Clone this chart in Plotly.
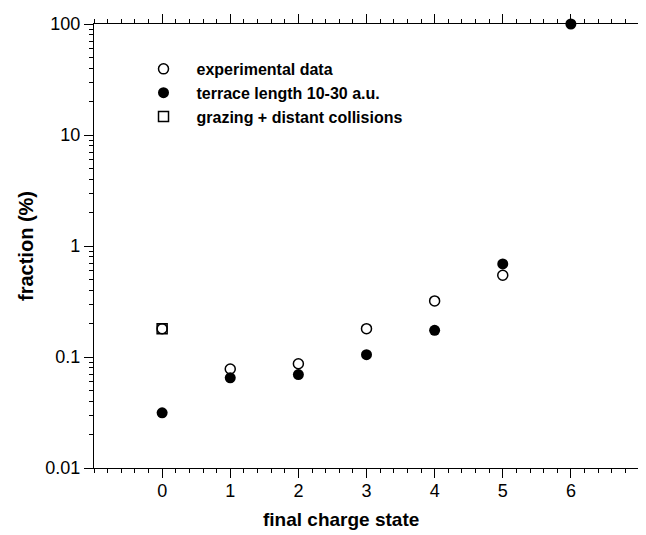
import plotly.graph_objects as go

charge_exp = [0, 1, 2, 3, 4, 5]
frac_exp = [0.18, 0.078, 0.087, 0.18, 0.32, 0.545]

charge_terrace = [0, 1, 2, 3, 4, 5, 6]
frac_terrace = [0.0314, 0.065, 0.0695, 0.105, 0.174, 0.69, 100]

charge_grazing = [0]
frac_grazing = [0.18]

x_ticks = [0, 1, 2, 3, 4, 5, 6]
y_ticks = [0.01, 0.1, 1, 10, 100]
y_ticktext = ["0.01", "0.1", "1", "10", "100"]

FONT = "Liberation Sans, Arial, Helvetica, sans-serif"

fig = go.Figure()
fig.add_trace(go.Scatter(
    x=charge_exp, y=frac_exp, mode="markers", name="experimental data",
    marker=dict(symbol="circle-open", size=10, color="black", line=dict(width=1.5, color="black")),
))
fig.add_trace(go.Scatter(
    x=charge_terrace, y=frac_terrace, mode="markers", name="terrace length 10-30 a.u.",
    marker=dict(symbol="circle", size=11, color="black"), cliponaxis=False,
))
fig.add_trace(go.Scatter(
    x=charge_grazing, y=frac_grazing, mode="markers", name="grazing + distant collisions",
    marker=dict(symbol="square-open", size=10, color="black", line=dict(width=1.5, color="black")),
))

axis_common = dict(
    showline=True, linecolor="black", linewidth=1.2, mirror="allticks",
    ticks="outside", ticklen=9, tickwidth=1.2, tickcolor="black",
    showgrid=False, zeroline=False,
    tickfont=dict(family=FONT, size=18, color="black"),
)

fig.update_layout(
    width=646, height=535,
    margin=dict(l=86, r=5, t=16, b=75),
    paper_bgcolor="white", plot_bgcolor="white",
    font=dict(family=FONT, color="black"),
    xaxis=dict(
        range=[-1, 7], tickvals=x_ticks, ticklabelstandoff=-3,
        minor=dict(dtick=0.2, ticklen=4, tickwidth=1, tickcolor="black", ticks="outside"),
        **axis_common,
    ),
    yaxis=dict(
        type="log", range=[-2, 2], tickvals=y_ticks, ticktext=y_ticktext,
        minor=dict(dtick="D1", ticklen=4, tickwidth=1, tickcolor="black", ticks="outside"),
        title=dict(text="<b>fraction (%)</b>", font=dict(family=FONT, size=20), standoff=6),
        **axis_common,
    ),
    legend=dict(
        x=0.067, y=0.937, xanchor="left", yanchor="top",
        bgcolor="rgba(0,0,0,0)", borderwidth=0,
        font=dict(family=FONT, size=16, color="black", weight="bold"),
        itemwidth=56, tracegroupgap=0,
    ),
    annotations=[dict(
        text="<b>final charge state</b>", xref="paper", yref="paper",
        x=0.454, y=-0.117, xanchor="center", yanchor="middle", showarrow=False,
        font=dict(family=FONT, size=19, color="black"),
    )],
    showlegend=True,
)

fig.write_html("out.html")
